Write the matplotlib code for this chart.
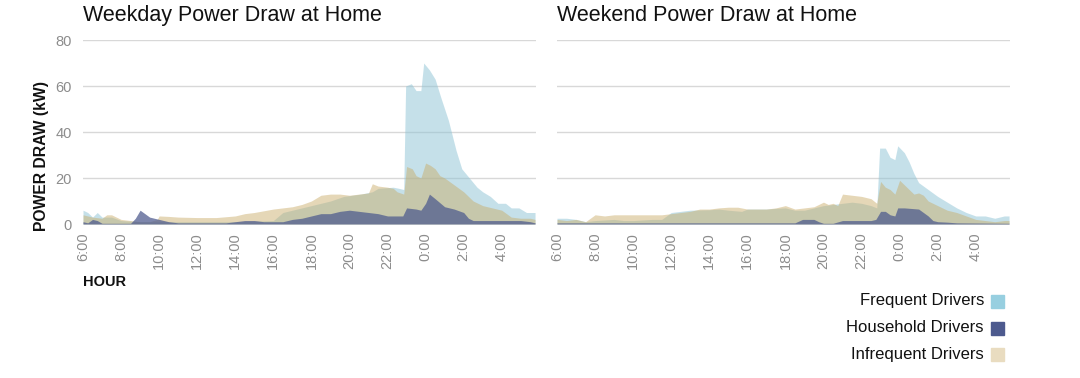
import matplotlib.pyplot as plt

plt.rcParams['font.family'] = ['Liberation Sans', 'DejaVu Sans']

# -----------------------------
# data (hours since midnight, >24 = next day)
# -----------------------------
wd_freq_h = [6, 6.25, 6.5, 6.75, 7, 7.5, 8, 9, 10, 12, 14, 16, 16.5, 17, 18, 19, 19.7, 20.6,
             21.2, 21.5, 22.3, 22.6, 22.85, 22.95, 23.25, 23.5, 23.75, 23.9, 24.2, 24.5,
             24.8, 25.2, 25.6, 25.9, 26.3, 26.7, 27, 27.4, 27.8, 28.2, 28.5, 28.9, 29.3, 29.75]
wd_freq = [6, 5, 3, 5, 3, 3, 1.5, 1, 1, 1, 1, 1.5, 5, 6, 8, 10, 12, 13,
           14, 15.5, 16, 15.5, 15, 60, 61, 58, 58, 70, 67, 63,
           55, 45, 32, 24, 20, 16, 14, 12, 9, 9, 7, 7, 5, 5]

wd_infreq_h = [6, 6.5, 7, 7.25, 7.5, 8, 8.5, 9, 9.5, 9.9, 10, 10.5, 11, 12, 13, 14, 14.5, 15,
               16, 16.5, 17, 17.5, 18, 18.5, 19, 19.5, 20, 20.5, 21, 21.2, 21.5, 22, 22.3,
               22.5, 22.85, 23, 23.3, 23.5, 23.75, 24, 24.25, 24.5, 24.75, 25, 25.5, 26,
               26.5, 27, 27.5, 28, 28.5, 29, 29.5, 29.75]
wd_infreq = [4, 3, 2.5, 4, 4, 2, 1.5, 1, 1, 2, 3.5, 3.3, 3, 2.8, 2.8, 3.5, 4.5, 5,
             6.5, 7, 7.5, 8.5, 10, 12.5, 13, 13, 12.5, 13, 13.5, 17.5, 16.5, 16, 15.5,
             14, 13, 25, 24, 21, 20, 26.5, 25.5, 24, 21, 20, 17, 14,
             10, 8, 7, 6, 3, 2.5, 2.5, 2]

wd_house_h = [6, 6.25, 6.5, 6.75, 7, 8.5, 8.75, 9, 9.25, 9.5, 9.75, 10, 10.5, 11, 13.5, 14,
              14.5, 15, 15.5, 16.5, 17, 17.5, 18, 18.5, 19, 19.5, 20, 20.5, 21, 21.5, 22,
              22.8, 23, 23.5, 23.75, 24, 24.2, 24.5, 25, 25.5, 26, 26.25, 26.5, 29, 29.5, 29.75]
wd_house = [1, 0.5, 2, 1.5, 0.3, 0.3, 2.5, 6, 4.5, 3, 2.5, 2, 1, 0.5, 0.5, 1,
            1.5, 1.5, 1, 1, 2, 2.5, 3.5, 4.5, 4.5, 5.5, 6, 5.5, 5, 4.5, 3.5,
            3.5, 7, 6.5, 6, 9, 13, 11, 7.5, 6.5, 5, 2.5, 1.5, 1.5, 1, 0.5]

we_freq_h = [6, 6.5, 7, 7.5, 8, 9, 9.5, 10, 11, 11.5, 12, 12.5, 13, 14, 14.5, 15, 15.7, 16,
             17, 17.5, 18, 18.5, 19, 19.5, 20, 20.5, 21, 21.5, 22, 22.5, 22.8, 22.95,
             23.25, 23.5, 23.75, 23.9, 24.25, 24.5, 24.75, 25, 25.5, 26, 26.5, 27, 27.5,
             28, 28.5, 29, 29.5, 29.75]
we_freq = [2.5, 2.5, 2, 1, 1.5, 2, 1.5, 1.5, 2, 2, 5, 5.5, 6, 6.2, 6.5, 6, 5.5, 6.5,
           6.5, 6.8, 7, 6, 6, 7, 8, 8.5, 9, 9.5, 9, 8, 7, 33,
           33, 29, 28, 34, 31, 27, 22, 18, 15, 12, 9.5, 7, 5,
           3.5, 3.5, 2.5, 3.5, 3.5]

we_infreq_h = [6, 6.5, 7, 7.5, 8, 8.5, 9, 10, 11.5, 12, 12.5, 13, 13.5, 14, 14.5, 15, 15.5,
               16, 17, 17.5, 18, 18.5, 19, 19.5, 20, 20.25, 20.5, 20.75, 21, 21.5, 22,
               22.5, 22.8, 23, 23.25, 23.5, 23.75, 24, 24.25, 24.5, 24.75, 25, 25.25,
               25.5, 26, 26.5, 27, 27.5, 28, 28.5, 29, 29.5, 29.75]
we_infreq = [2, 1.5, 2, 1, 4, 3.5, 4, 4, 4, 4.5, 5, 5.5, 6.5, 6.5, 7, 7.3, 7.3,
             6.5, 6.5, 7, 8, 6.5, 7, 7.5, 9.5, 8.5, 9, 8, 13, 12.5, 12,
             11, 9, 18.5, 16, 15, 13, 19, 17, 15, 13, 13.5, 12.5,
             10, 8, 6, 5, 3.5, 2, 1.5, 1, 1.5, 1.5]

we_house_h = [6, 18.5, 18.9, 19.5, 19.75, 20, 20.5, 21, 22.5, 22.75, 23, 23.25, 23.5, 23.75,
              23.9, 24.25, 25, 25.25, 25.5, 25.75, 26, 26.5, 27, 29.75]
we_house = [0.5, 0.5, 2, 2, 1, 0.3, 0.3, 1.5, 1.5, 2, 5.5, 5.5, 4, 3.5,
            7, 7, 6.5, 5, 3.5, 1.5, 1, 0.8, 0.5, 0.3]

tick_hours = [6, 8, 10, 12, 14, 16, 18, 20, 22, 24, 26, 28]
tick_labels = ["6:00", "8:00", "10:00", "12:00", "14:00", "16:00", "18:00",
               "20:00", "22:00", "0:00", "2:00", "4:00"]
series_names = ["Frequent Drivers", "Household Drivers", "Infrequent Drivers"]

c_freq = "#8dc3d5"
c_house = "#4d5a8e"
c_infreq = "#c9ab67"
c_sq = ["#97cfe0", "#4d5a8e", "#e9dcc0"]

# -----------------------------
# figure
# -----------------------------
fig = plt.figure(figsize=(10.8, 3.78), dpi=100)
ax1 = fig.add_axes([83 / 1080, 154 / 378, 453 / 1080, 184 / 378])
ax2 = fig.add_axes([557 / 1080, 154 / 378, 453 / 1080, 184 / 378])

panels = [
    (ax1, "Weekday Power Draw at Home", wd_freq_h, wd_freq, wd_infreq_h, wd_infreq, wd_house_h, wd_house),
    (ax2, "Weekend Power Draw at Home", we_freq_h, we_freq, we_infreq_h, we_infreq, we_house_h, we_house),
]

for ax, title, fh, fv, ih, iv, hh, hv in panels:
    ax.fill_between(fh, 0, fv, color=c_freq, alpha=0.5, lw=0)
    ax.fill_between(ih, 0, iv, color=c_infreq, alpha=0.47, lw=0)
    ax.fill_between(hh, 0, hv, color=c_house, alpha=0.73, lw=0)
    ax.set_xlim(6, 29.8)
    ax.set_ylim(0, 80)
    ax.set_yticks([0, 20, 40, 60, 80])
    ax.grid(axis="y", color="#d8d8d8", lw=1)
    ax.set_axisbelow(True)
    for s in ax.spines.values():
        s.set_visible(False)
    ax.set_xticks(tick_hours)
    ax.set_xticklabels(tick_labels, rotation=90, color="#8c8c8c", fontsize=10.5)
    ax.tick_params(length=0, pad=6)
    ax.tick_params(axis="y", colors="#8c8c8c", labelsize=10.5, pad=8)
    ax.set_title(title, loc="left", fontsize=15.5, x=0, y=1.06, color="#111111")

ax2.tick_params(axis="y", labelleft=False)

fig.text(42 / 1080, 1 - 156 / 378, "POWER DRAW (kW)", rotation=90, ha="center", va="center",
         fontsize=11.3, fontweight="bold", color="#111111")
fig.text(83 / 1080, 1 - 282 / 378, "HOUR", ha="left", va="center",
         fontsize=10.5, fontweight="bold", color="#111111")

# legend
for i, name in enumerate(series_names):
    y = 1 - (301 + 26.5 * i) / 378
    fig.text(984 / 1080, y, name, ha="right", va="center", fontsize=12, color="#111111")
    fig.patches.append(plt.Rectangle((991 / 1080, y - 7 / 378), 13 / 1080, 13 / 378,
                                     transform=fig.transFigure, color=c_sq[i]))

plt.savefig("out.png")
